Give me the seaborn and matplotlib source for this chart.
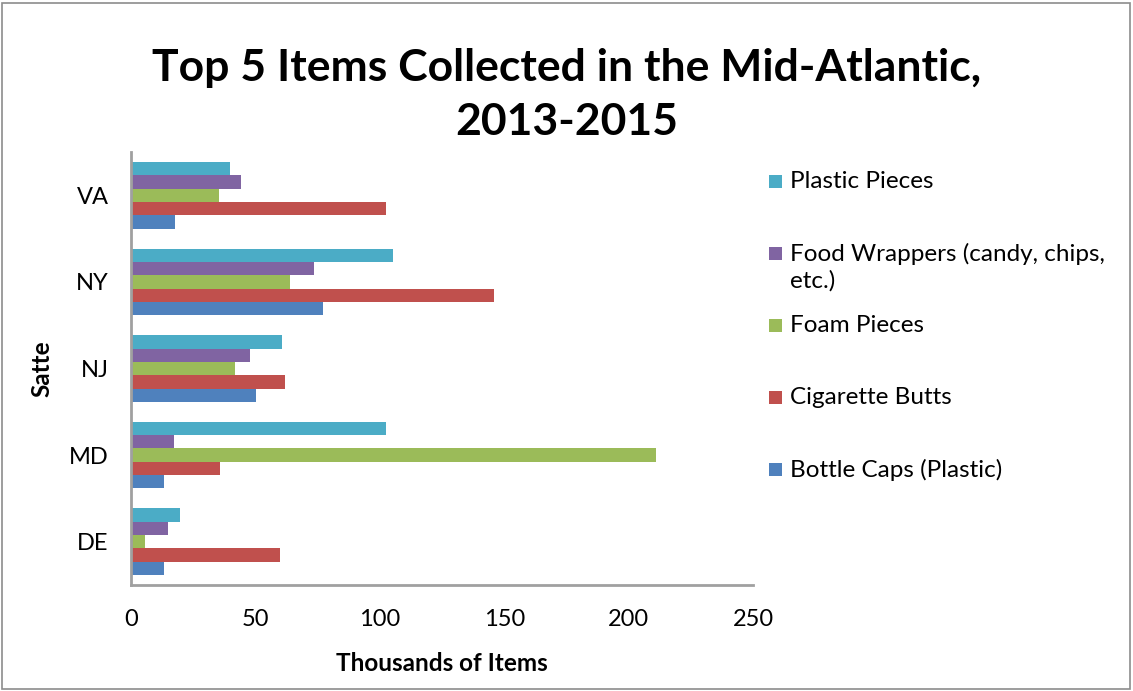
import matplotlib
matplotlib.use("Agg")
import matplotlib.pyplot as plt
from matplotlib.patches import Rectangle
import pandas as pd
import seaborn as sns

# Litter counts by state (thousands of items), 2013-2015
states = ["VA", "NY", "NJ", "MD", "DE"]
items = [
    "Plastic Pieces",
    "Food Wrappers (candy, chips, etc.)",
    "Foam Pieces",
    "Cigarette Butts",
    "Bottle Caps (Plastic)",
]
plastic_pieces = [39.8, 105.3, 60.6, 102.3, 19.7]
food_wrappers = [44.3, 73.6, 47.7, 17.4, 15.0]
foam_pieces = [35.4, 63.9, 41.8, 210.9, 5.8]
cigarette_butts = [102.5, 146.0, 61.9, 35.9, 59.9]
bottle_caps = [17.7, 77.3, 50.3, 13.2, 13.2]

legend_labels = [
    "Plastic Pieces",
    "Food Wrappers (candy, chips,\netc.)",
    "Foam Pieces",
    "Cigarette Butts",
    "Bottle Caps (Plastic)",
]
x_ticks = [0, 50, 100, 150, 200, 250]

colors = ["#4BACC6", "#8064A2", "#9BBB59", "#C0504D", "#4F81BD"]

series = [plastic_pieces, food_wrappers, foam_pieces, cigarette_butts, bottle_caps]
rows = []
for item, vals in zip(items, series):
    for st, v in zip(states, vals):
        rows.append({"State": st, "Item": item, "Count": v})
df = pd.DataFrame(rows)

sns.set_theme(style="white")
plt.rcParams["font.family"] = ["Lato", "DejaVu Sans"]
plt.rcParams["text.color"] = "black"
plt.rcParams["axes.labelcolor"] = "black"

fig = plt.figure(figsize=(11.33, 6.91), dpi=100)
ax = fig.add_axes([0.1156, 0.1534, 0.5490, 0.6266])

sns.barplot(
    data=df, y="State", x="Count", hue="Item",
    order=states, hue_order=items, palette=colors,
    orient="h", width=0.77, saturation=1, ax=ax, legend=False,
    edgecolor="none",
)

ax.set_xlim(0, 250)
ax.set_xticks(x_ticks)
ax.set_xticklabels([str(t) for t in x_ticks])
ax.tick_params(axis="both", length=0, labelsize=17, labelcolor="black")
ax.tick_params(axis="x", pad=17)
ax.tick_params(axis="y", pad=16)

for side in ["top", "right"]:
    ax.spines[side].set_visible(False)
for side in ["left", "bottom"]:
    ax.spines[side].set_color("#A0A0A0")
    ax.spines[side].set_linewidth(2)

ax.set_xlabel("Thousands of Items", fontsize=17.5, fontweight="bold", labelpad=16)
ax.set_ylabel("Satte", fontsize=17.5, fontweight="bold", labelpad=11)

fig.text(
    0.5, 1 - 95 / 691,
    "Top 5 Items Collected in the Mid-Atlantic,\n2013-2015",
    fontsize=32, fontweight="bold", ha="center", va="center",
    linespacing=1.42, color="black",
)

# Legend, one entry per series, evenly spaced in the right margin
legend_y = [181, 253, 325, 397, 469]
for lab, col, yp in zip(legend_labels, colors, legend_y):
    yf = 1 - yp / 691
    fig.add_artist(Rectangle((769 / 1133, yf - 7 / 691), 13 / 1133, 13 / 691,
                             transform=fig.transFigure, facecolor=col,
                             edgecolor="none"))
    fig.text(790 / 1133, yf + 10 / 691, lab, fontsize=17.5, va="top",
             ha="left", linespacing=1.3)

# Chart area border
fig.add_artist(Rectangle((2 / 1133, 2 / 691), 1128 / 1133, 686 / 691,
                         transform=fig.transFigure, facecolor="none",
                         edgecolor="#8C8C8C", linewidth=1.2))

fig.savefig("out.png", dpi=100)
